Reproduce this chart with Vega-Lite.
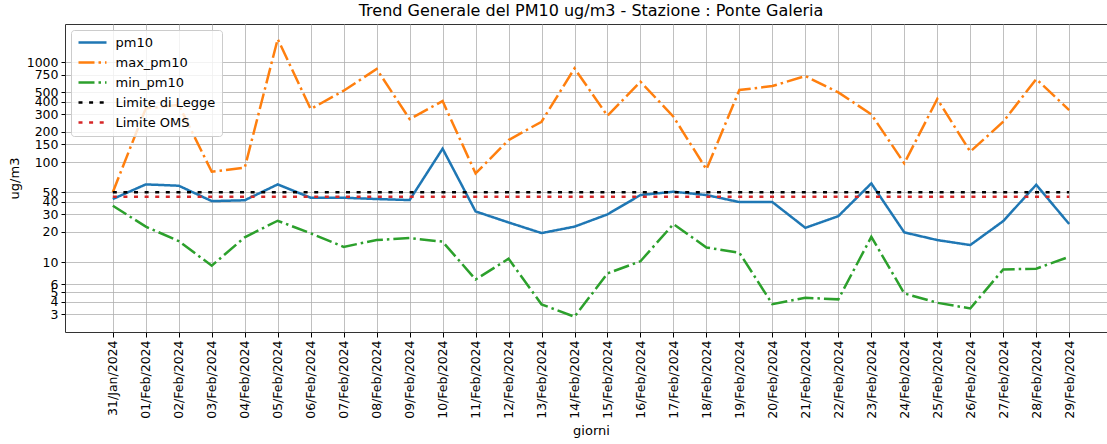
{
  "$schema": "https://vega.github.io/schema/vega-lite/v6.json",
  "width": 1052,
  "height": 308,
  "autosize": {"type": "none"},
  "padding": {"left": 65, "top": 24, "right": 0, "bottom": 112},
  "title": {"text": "Trend Generale del PM10 ug/m3 - Stazione : Ponte Galeria", "fontSize": 16, "font": "DejaVu Sans", "fontWeight": "normal", "color": "black", "anchor": "middle", "offset": 5},
  "config": {
    "font": "DejaVu Sans",
    "view": {"stroke": "#333333", "strokeWidth": 1}
  },
  "data": {"values": [
    {"giorno": "2024-01-31", "pm10": 42.7, "max_pm10": 50, "min_pm10": 36.6, "Limite di Legge": 50, "Limite OMS": 45},
    {"giorno": "2024-02-01", "pm10": 59.8, "max_pm10": 344, "min_pm10": 22.6, "Limite di Legge": 50, "Limite OMS": 45},
    {"giorno": "2024-02-02", "pm10": 58, "max_pm10": 372, "min_pm10": 16.2, "Limite di Legge": 50, "Limite OMS": 45},
    {"giorno": "2024-02-03", "pm10": 40.7, "max_pm10": 80, "min_pm10": 9.2, "Limite di Legge": 50, "Limite OMS": 45},
    {"giorno": "2024-02-04", "pm10": 41.5, "max_pm10": 87.7, "min_pm10": 17.7, "Limite di Legge": 50, "Limite OMS": 45},
    {"giorno": "2024-02-05", "pm10": 59.8, "max_pm10": 1698, "min_pm10": 25.9, "Limite di Legge": 50, "Limite OMS": 45},
    {"giorno": "2024-02-06", "pm10": 44, "max_pm10": 339, "min_pm10": 19.4, "Limite di Legge": 50, "Limite OMS": 45},
    {"giorno": "2024-02-07", "pm10": 44, "max_pm10": 517, "min_pm10": 14.2, "Limite di Legge": 50, "Limite OMS": 45},
    {"giorno": "2024-02-08", "pm10": 42.7, "max_pm10": 851, "min_pm10": 16.6, "Limite di Legge": 50, "Limite OMS": 45},
    {"giorno": "2024-02-09", "pm10": 41.7, "max_pm10": 269, "min_pm10": 17.4, "Limite di Legge": 50, "Limite OMS": 45},
    {"giorno": "2024-02-10", "pm10": 136, "max_pm10": 407, "min_pm10": 16, "Limite di Legge": 50, "Limite OMS": 45},
    {"giorno": "2024-02-11", "pm10": 32.1, "max_pm10": 77, "min_pm10": 6.7, "Limite di Legge": 50, "Limite OMS": 45},
    {"giorno": "2024-02-12", "pm10": 24.9, "max_pm10": 166, "min_pm10": 10.8, "Limite di Legge": 50, "Limite OMS": 45},
    {"giorno": "2024-02-13", "pm10": 19.5, "max_pm10": 253, "min_pm10": 3.78, "Limite di Legge": 50, "Limite OMS": 45},
    {"giorno": "2024-02-14", "pm10": 22.6, "max_pm10": 865, "min_pm10": 2.84, "Limite di Legge": 50, "Limite OMS": 45},
    {"giorno": "2024-02-15", "pm10": 30, "max_pm10": 290, "min_pm10": 7.7, "Limite di Legge": 50, "Limite OMS": 45},
    {"giorno": "2024-02-16", "pm10": 46.8, "max_pm10": 636, "min_pm10": 10.2, "Limite di Legge": 50, "Limite OMS": 45},
    {"giorno": "2024-02-17", "pm10": 50.5, "max_pm10": 284, "min_pm10": 24, "Limite di Legge": 50, "Limite OMS": 45},
    {"giorno": "2024-02-18", "pm10": 46.8, "max_pm10": 84.5, "min_pm10": 14, "Limite di Legge": 50, "Limite OMS": 45},
    {"giorno": "2024-02-19", "pm10": 39.8, "max_pm10": 525, "min_pm10": 12.4, "Limite di Legge": 50, "Limite OMS": 45},
    {"giorno": "2024-02-20", "pm10": 39.8, "max_pm10": 575, "min_pm10": 3.8, "Limite di Legge": 50, "Limite OMS": 45},
    {"giorno": "2024-02-21", "pm10": 22, "max_pm10": 724, "min_pm10": 4.4, "Limite di Legge": 50, "Limite OMS": 45},
    {"giorno": "2024-02-22", "pm10": 28.8, "max_pm10": 497, "min_pm10": 4.24, "Limite di Legge": 50, "Limite OMS": 45},
    {"giorno": "2024-02-23", "pm10": 61.2, "max_pm10": 300, "min_pm10": 17.9, "Limite di Legge": 50, "Limite OMS": 45},
    {"giorno": "2024-02-24", "pm10": 19.8, "max_pm10": 97, "min_pm10": 4.86, "Limite di Legge": 50, "Limite OMS": 45},
    {"giorno": "2024-02-25", "pm10": 16.6, "max_pm10": 427, "min_pm10": 3.92, "Limite di Legge": 50, "Limite OMS": 45},
    {"giorno": "2024-02-26", "pm10": 14.8, "max_pm10": 127, "min_pm10": 3.44, "Limite di Legge": 50, "Limite OMS": 45},
    {"giorno": "2024-02-27", "pm10": 25.7, "max_pm10": 253, "min_pm10": 8.45, "Limite di Legge": 50, "Limite OMS": 45},
    {"giorno": "2024-02-28", "pm10": 59.3, "max_pm10": 676, "min_pm10": 8.6, "Limite di Legge": 50, "Limite OMS": 45},
    {"giorno": "2024-02-29", "pm10": 24, "max_pm10": 331, "min_pm10": 11.3, "Limite di Legge": 50, "Limite OMS": 45}
  ]},
  "transform": [
    {"fold": ["pm10", "max_pm10", "min_pm10", "Limite di Legge", "Limite OMS"], "as": ["serie", "valore"]}
  ],
  "mark": {"type": "line", "clip": true},
  "encoding": {
    "x": {
      "field": "giorno", "type": "temporal",
      "scale": {"type": "utc", "domain": [1706533920000, 1709290080000], "nice": false},
      "axis": {"title": "giorni", "titleFontSize": 13, "titleFontWeight": "normal", "titleColor": "black", "titlePadding": 6,
               "format": "%d/%b/%Y",
               "values": [1706659200000, 1706745600000, 1706832000000, 1706918400000, 1707004800000, 1707091200000, 1707177600000, 1707264000000, 1707350400000, 1707436800000, 1707523200000, 1707609600000, 1707696000000, 1707782400000, 1707868800000, 1707955200000, 1708041600000, 1708128000000, 1708214400000, 1708300800000, 1708387200000, 1708473600000, 1708560000000, 1708646400000, 1708732800000, 1708819200000, 1708905600000, 1708992000000, 1709078400000, 1709164800000],
               "labelOverlap": false, "labelFlush": false,
               "labelAngle": 270, "labelAlign": "right", "labelBaseline": "middle", "labelFontSize": 12.5, "labelColor": "black", "labelPadding": 3,
               "tickSize": 5, "tickColor": "black", "domain": false,
               "grid": true, "gridColor": "#b0b0b0", "gridWidth": 0.8}
    },
    "y": {
      "field": "valore", "type": "quantitative",
      "scale": {"type": "log", "domain": [2, 2400], "nice": false},
      "axis": {"title": "ug/m3", "titleFontSize": 13, "titleFontWeight": "normal", "titleColor": "black", "titlePadding": 5,
               "values": [3, 4, 5, 6, 10, 20, 30, 40, 50, 100, 150, 200, 300, 400, 500, 750, 1000],
               "format": "d", "labelOverlap": false, "labelFlush": false, "labelFontSize": 12.5, "labelColor": "black", "labelPadding": 3,
               "tickSize": 4, "tickColor": "black", "domain": false,
               "grid": true, "gridColor": "#b0b0b0", "gridWidth": 0.8}
    },
    "color": {
      "field": "serie", "type": "nominal",
      "scale": {"domain": ["pm10", "max_pm10", "min_pm10", "Limite di Legge", "Limite OMS"],
                "range": ["#1f77b4", "#ff7f0e", "#2ca02c", "#000000", "#d62728"]},
      "legend": {"orient": "none", "legendX": 6, "legendY": 6, "title": null,
                 "symbolType": "M-1,0H4.6", "symbolSize": 100,
                 "labelFont": "DejaVu Sans", "labelFontSize": 13, "labelColor": "black", "labelOffset": 25.5,
                 "fillColor": "rgba(255,255,255,0.8)", "strokeColor": "#cccccc", "cornerRadius": 3, "padding": 6, "rowPadding": 6}
    },
    "strokeDash": {
      "field": "serie", "type": "nominal",
      "scale": {"domain": ["pm10", "max_pm10", "min_pm10", "Limite di Legge", "Limite OMS"],
                "range": [[1, 0], [16, 4, 2.5, 4], [16, 4, 2.5, 4], [4, 6.6], [4, 6.6]]}
    },
    "strokeWidth": {
      "field": "serie", "type": "nominal",
      "scale": {"domain": ["pm10", "max_pm10", "min_pm10", "Limite di Legge", "Limite OMS"],
                "range": [2.5, 2.5, 2.5, 4, 4]}
    }
  }
}
